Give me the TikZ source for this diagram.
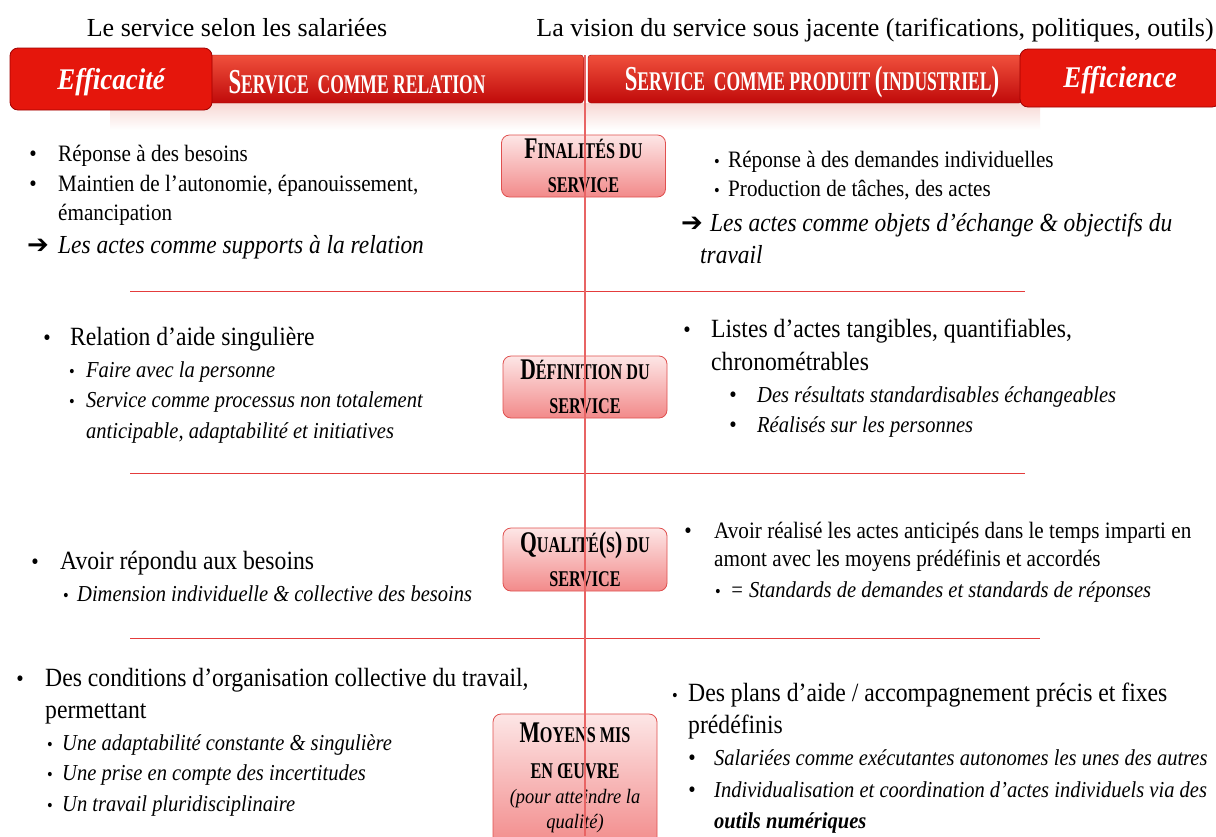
\documentclass[tikz,border=0pt]{standalone}
\usepackage{fontspec}
\setmainfont{Liberation Serif}[FakeStretch=0.9]
\newfontfamily\ttlfont{Liberation Serif}
\newfontfamily\barfont{Liberation Serif}[FakeStretch=0.65]
\newfontfamily\boxfont{Liberation Serif}[FakeStretch=0.72]
\newfontfamily\symfont{DejaVu Sans}
\definecolor{barTop}{HTML}{F0503C}
\definecolor{barBot}{HTML}{C00A0A}
\definecolor{effFill}{HTML}{E5160C}
\definecolor{effDraw}{HTML}{A00000}
\definecolor{boxTop}{HTML}{FDE6E6}
\definecolor{boxBot}{HTML}{F28A8A}
\definecolor{boxDraw}{HTML}{E0504F}
\definecolor{lineRed}{HTML}{E43C3C}
\definecolor{vRed}{HTML}{E86464}
\definecolor{shadowPink}{HTML}{F7D8D4}
\newcommand\BigC[1]{{\fontsize{35}{35}\selectfont #1}}
\newcommand\BoxC[1]{{\fontsize{30}{30}\selectfont #1}}
\newcommand\arr{{\symfont\bfseries\fontsize{26}{26}\selectfont ➔}}
\begin{document}
\begin{tikzpicture}[x=1pt,y=-1pt,
  ttl/.style={anchor=base, inner sep=0pt, font=\ttlfont\fontsize{26}{30}\selectfont},
  bar/.style={rounded corners=3pt, top color=barTop, bottom color=barBot, draw=barBot!80!black, line width=0.4pt},
  bartxt/.style={anchor=center, inner sep=0pt, text=white, font=\barfont\bfseries\fontsize{27}{27}\selectfont},
  effbox/.style={rounded corners=8pt, fill=effFill, draw=effDraw, line width=0.8pt},
  efftxt/.style={anchor=center, inner sep=0pt, text=white, font=\bfseries\itshape\fontsize{30}{30}\selectfont},
  catbox/.style={rounded corners=8pt, top color=boxTop, bottom color=boxBot, draw=boxDraw, line width=0.8pt, minimum width=164pt, align=center, inner sep=0pt, font=\boxfont\bfseries\fontsize{22.5}{34}\selectfont},
  sep/.style={draw=lineRed, line width=0.9pt},
  vline/.style={draw=vRed, line width=1.2pt},
  ta/.style={anchor=base west, inner sep=0pt, font=\fontsize{23.5}{28}\selectfont},
  tb/.style={anchor=base west, inner sep=0pt, font=\fontsize{26.3}{30}\selectfont},
  tai/.style={anchor=base west, inner sep=0pt, font=\itshape\fontsize{22.8}{28}\selectfont},
  tbi/.style={anchor=base west, inner sep=0pt, font=\itshape\fontsize{26}{30}\selectfont},
  bul/.style={anchor=base, inner sep=0pt, font=\fontsize{23.5}{28}\selectfont},
  sbul/.style={anchor=base, inner sep=0pt, font=\fontsize{18}{20}\selectfont},
  arrn/.style={anchor=base west, inner sep=0pt}
]
\useasboundingbox (0,0) rectangle (1216,836);
\clip (0,0) rectangle (1216,836);
\fill[white] (0,0) rectangle (1216,836);

% titles
\node[ttl] (tleft) at (237,36) {Le service selon les salariées};
\node[ttl] (tright) at (875,36) {La vision du service sous jacente (tarifications, politiques, outils)};

% header bar
\shade[top color=shadowPink, bottom color=white] (110,103) rectangle (1040,130);
\node[bar, minimum width=375pt, minimum height=48pt, inner sep=0pt] (barL) at (396,79) {};
\node[bar, minimum width=434pt, minimum height=48pt, inner sep=0pt] (barR) at (805,79) {};
\node[bartxt] (barLt) at (357,82) {\BigC{S}ERVICE\ \ COMME RELATION};
\node[bartxt] (barRt) at (812,82) {\BigC{S}ERVICE\ \ COMME PRODUIT \BigC{(}INDUSTRIEL\BigC{)}};
\node[effbox, minimum width=202pt, minimum height=62pt, inner sep=0pt] (eff) at (111,79) {};
\node[efftxt] (efft) at (111,82) {Efficacité};
\node[effbox, minimum width=200pt, minimum height=58pt, inner sep=0pt] (effi) at (1120,78) {};
\node[efftxt] (effit) at (1120,80) {Efficience};

% separators
\coordinate (s1a) at (130,291); \coordinate (s1b) at (1025,291);
\coordinate (s2a) at (130,473); \coordinate (s2b) at (1025,473);
\coordinate (s3a) at (130,638); \coordinate (s3b) at (1040,638);
\draw[sep] (s1a) -- (s1b);
\draw[sep] (s2a) -- (s2b);
\draw[sep] (s3a) -- (s3b);

% category boxes
\node[catbox, minimum height=62pt] (fin) at (583.5,166) {\BoxC{F}INALITÉS DU\\SERVICE};
\node[catbox, minimum height=62pt] (def) at (585,387) {\BoxC{D}ÉFINITION DU\\SERVICE};
\node[catbox, minimum height=63pt] (qual) at (585,559.5) {\BoxC{Q}UALITÉ\BoxC{(}S\BoxC{)} DU\\SERVICE};
\node[catbox, minimum height=134pt] (moy) at (575,781) {};
\node[anchor=north, inner sep=0pt, align=center, font=\boxfont\bfseries\fontsize{22.5}{36}\selectfont] (moyt) at (575,723) {\BoxC{M}OYENS MIS\\EN ŒUVRE};
\node[anchor=north, inner sep=0pt, align=center, font=\itshape\fontsize{20.5}{25}\selectfont] (moyi) at (575,789) {(pour atteindre la\\qualité)};

% vertical axis
\coordinate (vtop) at (585,55);
\coordinate (vbot) at (585,836);
\draw[vline] (vtop) -- (vbot);

% ---- Section 1 left
\node[bul] (b11) at (33,161) {•};
\node[ta] (l11) at (58,161) {Réponse à des besoins};
\node[bul] (b12) at (33,191) {•};
\node[ta] (l12) at (58,191) {Maintien de l’autonomie, épanouissement,};
\node[ta] (l13) at (58,220) {émancipation};
\node[arrn] (a11) at (27,253) {\arr};
\node[tbi] (l14) at (58,253) {Les actes comme supports à la relation};
% ---- Section 1 right
\node[sbul] (b15) at (717,167) {•};
\node[ta] (r11) at (728,167) {Réponse à des demandes individuelles};
\node[sbul] (b16) at (717,196) {•};
\node[ta] (r12) at (728,196) {Production de tâches, des actes};
\node[arrn] (a12) at (681,231) {\arr};
\node[tbi] (r13) at (710,231) {Les actes comme objets d’échange \& objectifs du};
\node[tbi] (r14) at (700,263) {travail};

% ---- Section 2 left
\node[bul] (b21) at (47,345) {•};
\node[tb] (l21) at (70,345) {Relation d’aide singulière};
\node[sbul] (b22) at (72,377) {•};
\node[tai] (l22) at (86,377) {Faire avec la personne};
\node[sbul] (b23) at (72,407) {•};
\node[tai] (l23) at (86,407) {Service comme processus non totalement};
\node[tai] (l24) at (86,438) {anticipable, adaptabilité et initiatives};
% ---- Section 2 right
\node[bul] (b24) at (687,337) {•};
\node[tb] (r21) at (711,337) {Listes d’actes tangibles, quantifiables,};
\node[tb] (r22) at (711,370) {chronométrables};
\node[bul] (b25) at (733,402) {•};
\node[tai] (r23) at (757,402) {Des résultats standardisables échangeables};
\node[bul] (b26) at (733,432) {•};
\node[tai] (r24) at (757,432) {Réalisés sur les personnes};

% ---- Section 3 left
\node[bul] (b31) at (35,569) {•};
\node[tb] (l31) at (60,569) {Avoir répondu aux besoins};
\node[sbul] (b32) at (66,601) {•};
\node[tai] (l32) at (77,601) {Dimension individuelle \& collective des besoins};
% ---- Section 3 right
\node[bul] (b33) at (688,538) {•};
\node[ta] (r31) at (714,538) {Avoir réalisé les actes anticipés dans le temps imparti en};
\node[ta] (r32) at (714,566) {amont avec les moyens prédéfinis et accordés};
\node[sbul] (b34) at (718,597) {•};
\node[tai] (r33) at (730,597) {= Standards de demandes et standards de réponses};

% ---- Section 4 left
\node[bul] (b41) at (20,686) {•};
\node[tb] (l41) at (45,686) {Des conditions d’organisation collective du travail,};
\node[tb] (l42) at (45,718) {permettant};
\node[sbul] (b42) at (50,750) {•};
\node[tai] (l43) at (62,750) {Une adaptabilité constante \& singulière};
\node[sbul] (b43) at (50,780) {•};
\node[tai] (l44) at (62,780) {Une prise en compte des incertitudes};
\node[sbul] (b44) at (50,811) {•};
\node[tai] (l45) at (62,811) {Un travail pluridisciplinaire};
% ---- Section 4 right
\node[sbul] (b45) at (675,701) {•};
\node[tb] (r41) at (688,701) {Des plans d’aide / accompagnement précis et fixes};
\node[tb] (r42) at (688,733) {prédéfinis};
\node[bul] (b46) at (692,765) {•};
\node[tai] (r43) at (714,765) {Salariées comme exécutantes autonomes les unes des autres};
\node[bul] (b47) at (692,797) {•};
\node[tai] (r44) at (714,797) {Individualisation et coordination d’actes individuels via des};
\node[tai, font=\bfseries\itshape\fontsize{22.8}{28}\selectfont] (r45) at (714,828) {outils numériques};
\end{tikzpicture}
\end{document}
